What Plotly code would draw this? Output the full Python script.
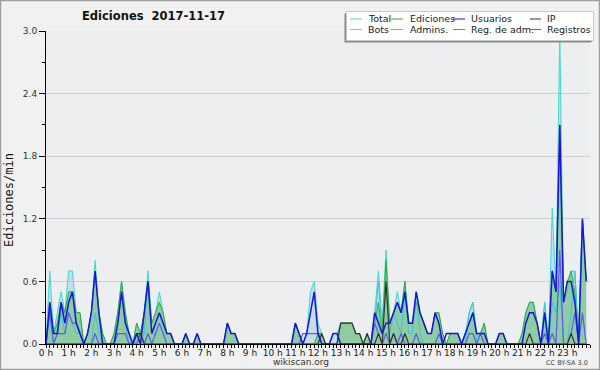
import plotly.graph_objects as go

# ---- data: 10-minute bins, 144 per day (edits per minute) ----
hour_labels = [f"{h} h" for h in range(24)]
hour_ticks = list(range(24))
times = [i / 6 for i in range(144)]  # hours

total = [
    0, 0.7, 0.1, 0.3, 0.5, 0.3,
    0.7, 0.7, 0.3, 0.3, 0, 0.1,
    0.3, 0.8, 0.3, 0.1, 0, 0,
    0.1, 0.3, 0.6, 0.3, 0.1, 0,
    0.2, 0.1, 0.3, 0.7, 0.2, 0.3,
    0.5, 0.3, 0.1, 0.1, 0, 0,
    0, 0.1, 0, 0, 0.1, 0,
    0, 0, 0, 0, 0, 0,
    0.2, 0.1, 0.1, 0, 0, 0,
    0, 0, 0, 0, 0, 0,
    0, 0, 0, 0, 0, 0,
    0.2, 0.1, 0, 0.1, 0.5, 0.6,
    0.2, 0.1, 0, 0, 0.1, 0.1,
    0.2, 0.2, 0.2, 0.2, 0.1, 0.1,
    0, 0.1, 0, 0.3, 0.7, 0.2,
    0.9, 0.2, 0.3, 0.5, 0.3, 0.6,
    0.2, 0.2, 0.5, 0.3, 0.2, 0.1,
    0.1, 0.3, 0.3, 0.1, 0, 0.1,
    0.1, 0.1, 0, 0.1, 0.3, 0.4,
    0.1, 0.1, 0.2, 0, 0, 0,
    0.1, 0.1, 0, 0, 0, 0,
    0.1, 0.3, 0.4, 0.4, 0.2, 0,
    0.4, 0, 1.3, 0.5, 3.0, 0.4,
    0.5, 0.7, 0.7, 0.1, 1.2, 0.6,
]

ediciones = [
    0, 0.4, 0.1, 0.2, 0.4, 0.3,
    0.5, 0.5, 0.3, 0.3, 0, 0.1,
    0.3, 0.7, 0.3, 0.1, 0, 0,
    0.1, 0.3, 0.6, 0.3, 0.1, 0,
    0.2, 0.1, 0.3, 0.6, 0.2, 0.3,
    0.4, 0.3, 0.1, 0.1, 0, 0,
    0, 0.1, 0, 0, 0.1, 0,
    0, 0, 0, 0, 0, 0,
    0.2, 0.1, 0.1, 0, 0, 0,
    0, 0, 0, 0, 0, 0,
    0, 0, 0, 0, 0, 0,
    0.2, 0.1, 0, 0, 0, 0,
    0.1, 0.1, 0, 0, 0, 0,
    0.2, 0.2, 0.2, 0.2, 0.1, 0.1,
    0, 0.1, 0, 0.2, 0.4, 0.1,
    0.8, 0.2, 0.3, 0.4, 0.3, 0.6,
    0.2, 0.2, 0.4, 0.3, 0.2, 0.1,
    0.1, 0.3, 0.3, 0.1, 0, 0.1,
    0.1, 0.1, 0, 0.1, 0.2, 0.3,
    0.1, 0.1, 0.2, 0, 0, 0,
    0.1, 0.1, 0, 0, 0, 0,
    0.1, 0.3, 0.4, 0.4, 0.2, 0,
    0.3, 0, 0.7, 0.5, 2.1, 0.4,
    0.6, 0.7, 0.5, 0.1, 1.2, 0.6,
]

usuarios = [
    0, 0.4, 0.1, 0.1, 0.4, 0.2,
    0.4, 0.5, 0.2, 0.1, 0, 0.1,
    0.3, 0.7, 0.3, 0, 0, 0,
    0, 0.2, 0.5, 0.2, 0.1, 0,
    0.1, 0, 0.3, 0.6, 0.1, 0.2,
    0.3, 0.2, 0.1, 0.1, 0, 0,
    0, 0.1, 0, 0, 0.1, 0,
    0, 0, 0, 0, 0, 0,
    0.2, 0.1, 0.1, 0, 0, 0,
    0, 0, 0, 0, 0, 0,
    0, 0, 0, 0, 0, 0,
    0.2, 0.1, 0, 0.1, 0.3, 0.5,
    0.1, 0, 0, 0, 0.1, 0.1,
    0, 0, 0, 0, 0, 0,
    0, 0, 0, 0.3, 0.2, 0.1,
    0.2, 0.2, 0.3, 0.4, 0.3, 0.5,
    0.2, 0.2, 0.5, 0.3, 0.2, 0.1,
    0.1, 0.3, 0.2, 0, 0.1, 0.1,
    0.1, 0.1, 0, 0.1, 0.2, 0.3,
    0.1, 0.1, 0.1, 0, 0, 0,
    0.1, 0.1, 0, 0, 0, 0,
    0, 0.2, 0.3, 0.3, 0.2, 0,
    0.3, 0, 0.7, 0.5, 2.1, 0.4,
    0.6, 0.6, 0.4, 0, 1.2, 0.6,
]

ip = [
    0, 0, 0, 0, 0, 0,
    0, 0, 0, 0, 0, 0,
    0, 0, 0, 0, 0, 0,
    0, 0, 0, 0, 0, 0,
    0.1, 0.1, 0, 0, 0, 0,
    0, 0, 0, 0, 0, 0,
    0, 0, 0, 0, 0, 0,
    0, 0, 0, 0, 0, 0,
    0, 0, 0, 0, 0, 0,
    0, 0, 0, 0, 0, 0,
    0, 0, 0, 0, 0, 0,
    0, 0, 0, 0, 0, 0,
    0, 0.1, 0, 0, 0, 0,
    0.2, 0.2, 0.2, 0.2, 0.1, 0.1,
    0, 0.1, 0, 0, 0.1, 0,
    0.6, 0, 0.1, 0, 0, 0.1,
    0, 0, 0, 0, 0, 0,
    0, 0, 0, 0, 0, 0,
    0, 0, 0, 0, 0, 0,
    0, 0, 0, 0, 0, 0,
    0, 0, 0, 0, 0, 0,
    0, 0, 0.1, 0, 0, 0,
    0, 0, 0, 0, 0, 0,
    0, 0.1, 0, 0, 0, 0,
]

admins = [
    0, 0.3, 0, 0.1, 0.3, 0.1,
    0.3, 0.2, 0.1, 0.1, 0, 0,
    0, 0.3, 0.1, 0, 0, 0,
    0, 0.2, 0.5, 0.2, 0, 0,
    0, 0, 0.1, 0.6, 0.1, 0.1,
    0.2, 0.1, 0, 0, 0, 0,
    0, 0, 0, 0, 0, 0,
    0, 0, 0, 0, 0, 0,
    0, 0, 0, 0, 0, 0,
    0, 0, 0, 0, 0, 0,
    0, 0, 0, 0, 0, 0,
    0, 0, 0, 0, 0, 0,
    0, 0, 0, 0, 0, 0,
    0, 0, 0, 0, 0, 0,
    0, 0, 0, 0.2, 0.6, 0.1,
    0.1, 0.1, 0.3, 0.2, 0.1, 0.5,
    0.1, 0.1, 0.5, 0.1, 0, 0,
    0, 0, 0, 0, 0, 0,
    0, 0, 0, 0, 0.3, 0.4,
    0, 0, 0, 0, 0, 0,
    0, 0, 0, 0, 0, 0,
    0, 0, 0, 0, 0, 0,
    0.4, 0, 0.4, 0.3, 0.6, 0,
    0, 0.3, 0.7, 0, 0, 0,
]

registros = [
    0, 0.3, 0, 0.1, 0.1, 0.1,
    0.3, 0.2, 0.2, 0.1, 0, 0,
    0, 0.1, 0, 0, 0, 0,
    0, 0.1, 0.1, 0.1, 0, 0,
    0, 0.1, 0, 0.1, 0, 0.1,
    0.2, 0.1, 0, 0, 0, 0,
    0, 0, 0, 0, 0, 0,
    0, 0, 0, 0, 0, 0,
    0, 0, 0, 0, 0, 0,
    0, 0, 0, 0, 0, 0,
    0, 0, 0, 0, 0, 0,
    0, 0, 0.1, 0.1, 0.1, 0.1,
    0.1, 0, 0, 0, 0, 0,
    0, 0, 0, 0, 0, 0,
    0, 0, 0, 0.2, 0.1, 0,
    0.1, 0, 0.1, 0, 0.1, 0,
    0, 0, 0.1, 0, 0, 0,
    0, 0, 0.1, 0, 0, 0,
    0, 0, 0, 0, 0.1, 0.1,
    0, 0.1, 0, 0, 0, 0,
    0, 0, 0, 0, 0, 0,
    0, 0, 0, 0, 0, 0,
    0.1, 0, 0.1, 0, 0.9, 0,
    0, 0.1, 0.3, 0, 0.3, 0,
]

bots = [0] * 144          # no bot edits visible
reg_adm = [0] * 144       # no visible values

series_names = ["Total", "Ediciones", "Usuarios", "IP",
                "Bots", "Admins.", "Reg. de adm.", "Registros"]
series_colors = ["#3fd9cf", "#35a835", "#1515dd", "#333333",
                 "#f5a030", "#3cc4dc", "#cc44dd", "#5a5af5"]

# ---- figure ----
W, H = 600, 370
ML, MR, MT, MB = 46, 10, 31, 26
PW, PH = W - ML - MR, H - MT - MB


def px(x):
    return (x - ML) / PW


def py(y):
    return (H - MB - y) / PH


fig = go.Figure()

fig.add_trace(go.Scatter(x=times, y=total, mode="lines", fill="tozeroy",
                         fillcolor="rgba(160,205,230,0.5)",
                         line=dict(color=series_colors[0], width=1)))
fig.add_trace(go.Scatter(x=times, y=ediciones, mode="lines", fill="tozeroy",
                         fillcolor="rgba(100,190,100,0.55)",
                         line=dict(color=series_colors[1], width=1)))
fig.add_trace(go.Scatter(x=times, y=bots, mode="lines",
                         line=dict(color=series_colors[4], width=1)))
fig.add_trace(go.Scatter(x=times, y=reg_adm, mode="lines",
                         line=dict(color=series_colors[6], width=1)))
fig.add_trace(go.Scatter(x=times, y=admins, mode="lines",
                         line=dict(color=series_colors[5], width=1)))
fig.add_trace(go.Scatter(x=times, y=registros, mode="lines",
                         line=dict(color=series_colors[7], width=1.2)))
fig.add_trace(go.Scatter(x=times, y=ip, mode="lines",
                         line=dict(color=series_colors[3], width=1.2)))
fig.add_trace(go.Scatter(x=times, y=usuarios, mode="lines",
                         line=dict(color=series_colors[2], width=1.5)))

fig.update_traces(showlegend=False, hoverinfo="skip")

font_main = "DejaVu Sans, sans-serif"

shapes = []
annotations = []

# outer frame
shapes.append(dict(type="rect", xref="paper", yref="paper",
                   x0=px(0.5), x1=px(599.5), y0=py(369.5), y1=py(0.5),
                   line=dict(color="#a0a0a0", width=1.5), layer="below"))

# manual legend (box with shadow)
shapes.append(dict(type="rect", xref="paper", yref="paper",
                   x0=px(344.5), x1=px(591.5), y0=py(42.5), y1=py(13.5),
                   line=dict(width=0), fillcolor="#8a8a8a", layer="above"))
shapes.append(dict(type="rect", xref="paper", yref="paper",
                   x0=px(346.5), x1=px(593.5), y0=py(40.5), y1=py(11.5),
                   line=dict(color="#c8c8c8", width=1), fillcolor="#ffffff",
                   layer="above"))

col_sym = [(350, 362), (391, 403), (453, 465), (530, 541)]
col_txt = [366, 408, 469, 545]
row_y = [19, 29.5]
for k, (name, color) in enumerate(zip(series_names, series_colors)):
    r, c = divmod(k, 4)
    shapes.append(dict(type="line", xref="paper", yref="paper",
                       x0=px(col_sym[c][0]), x1=px(col_sym[c][1]),
                       y0=py(row_y[r]), y1=py(row_y[r]),
                       line=dict(color=color, width=1), layer="above"))
    annotations.append(dict(text=name, xref="paper", yref="paper",
                            x=px(col_txt[c]), y=py(row_y[r]),
                            xanchor="left", yanchor="middle", showarrow=False,
                            font=dict(family=font_main, size=9.5, color="#222")))

# title
annotations.append(dict(text="<b>Ediciones\u00a0 2017-11-17</b>",
                        xref="paper", yref="paper", x=px(153), y=py(16),
                        xanchor="center", yanchor="middle", showarrow=False,
                        font=dict(family=font_main, size=11.5, color="#111")))
# y-axis title
annotations.append(dict(text="Ediciones/min", xref="paper", yref="paper",
                        x=px(9), y=py(200), textangle=-90,
                        xanchor="center", yanchor="middle", showarrow=False,
                        font=dict(family="DejaVu Sans Mono, monospace",
                                  size=12, color="#111")))
# footer texts
annotations.append(dict(text="wikiscan.org", xref="paper", yref="paper",
                        x=px(301), y=py(362), xanchor="center",
                        yanchor="middle", showarrow=False,
                        font=dict(family=font_main, size=9, color="#333")))
annotations.append(dict(text="CC BY-SA 3.0", xref="paper", yref="paper",
                        x=px(590), y=py(362.5), xanchor="right",
                        yanchor="middle", showarrow=False,
                        font=dict(family=font_main, size=6.5, color="#444")))

fig.update_layout(
    width=W, height=H,
    margin=dict(l=ML, r=MR, t=MT, b=MB, pad=0),
    paper_bgcolor="#f1f1f1",
    plot_bgcolor="#eceef0",
    shapes=shapes,
    annotations=annotations,
    showlegend=False,
    font=dict(family=font_main, size=9, color="#222"),
)

fig.update_xaxes(
    range=[0, 24], tickmode="array", tickvals=hour_ticks, ticktext=hour_labels,
    ticks="outside", ticklen=3, tickcolor="#000", tickwidth=1,
    ticklabelstandoff=-3,
    showline=True, linecolor="#000", linewidth=1, showgrid=False,
    zeroline=False, tickfont=dict(size=9, family=font_main, color="#222"),
    minor=dict(tickmode="linear", tick0=0, dtick=1 / 6, ticks="outside",
               ticklen=3, tickcolor="#000", showgrid=False),
)
fig.update_yaxes(
    range=[0, 3.0], tickmode="linear", tick0=0, dtick=0.6, tickformat=".1f",
    ticks="outside", ticklen=6, tickcolor="#000", tickwidth=1,
    showline=True, linecolor="#000", linewidth=1,
    showgrid=True, gridcolor="#cfcfcf", gridwidth=1, zeroline=False,
    tickfont=dict(size=9, family=font_main, color="#333"),
    minor=dict(tickmode="linear", tick0=0, dtick=0.3, ticks="outside",
               ticklen=3, tickcolor="#000", showgrid=False),
)

fig.write_html("out.html")
